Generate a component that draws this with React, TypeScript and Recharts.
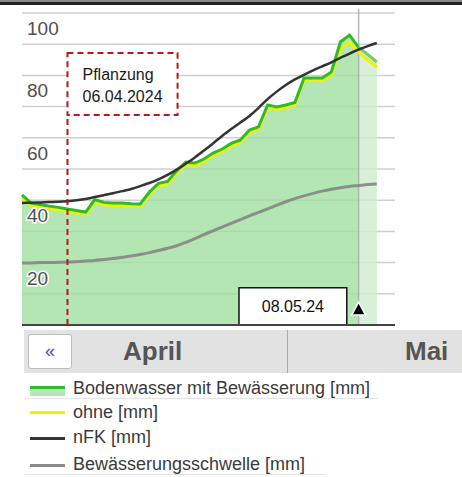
import {
  ComposedChart,
  Area,
  Line,
  XAxis,
  YAxis,
  CartesianGrid,
  ReferenceLine,
  ReferenceArea,
  ReferenceDot,
} from "recharts";

const dates = [
  "01.04.", "02.04.", "03.04.", "04.04.", "05.04.", "06.04.", "07.04.", "08.04.", "09.04.", "10.04.",
  "11.04.", "12.04.", "13.04.", "14.04.", "15.04.", "16.04.", "17.04.", "18.04.", "19.04.", "20.04.",
  "21.04.", "22.04.", "23.04.", "24.04.", "25.04.", "26.04.", "27.04.", "28.04.", "29.04.", "30.04.",
  "01.05.", "02.05.", "03.05.", "04.05.", "05.05.", "06.05.", "07.05.", "08.05.", "09.05.", "10.05.",
];

// Bodenwasser mit Bewässerung [mm]
const mitBewaesserung = [
  41.7, 39.1, 38.6, 38.1, 37.7, 37.2, 36.7, 36.2, 40.2, 39.3,
  39.1, 39.1, 38.9, 38.8, 42.6, 45.4, 46.0, 49.4, 52.2, 51.9,
  53.2, 55.1, 56.4, 58.2, 59.3, 62.5, 63.5, 70.5, 69.9, 70.5,
  71.3, 79.2, 79.2, 79.2, 81.1, 90.7, 92.9, 89.0, 86.7, 84.3,
];

// ohne [mm]
const ohne = [
  40.9, 38.3, 37.8, 37.3, 36.9, 36.4, 35.9, 35.4, 39.4, 38.5,
  38.3, 38.3, 38.1, 38.0, 41.8, 44.6, 45.2, 48.6, 51.4, 51.1,
  52.4, 54.3, 55.6, 57.4, 58.5, 61.7, 62.7, 69.7, 69.1, 69.7,
  70.5, 78.4, 78.4, 78.4, 80.2, 88.5, 90.7, 87.5, 85.0, 82.7,
];

// nFK [mm]
const nfk = [
  39.1, 39.2, 39.3, 39.4, 39.5, 39.7, 40.0, 40.4, 41.0, 41.6,
  42.2, 42.9, 43.6, 44.5, 45.5, 46.7, 48.1, 49.8, 51.7, 53.7,
  55.9, 58.2, 60.6, 62.8, 64.9, 67.0, 69.6, 72.4, 74.8, 76.9,
  78.7, 80.2, 81.6, 82.9, 84.2, 85.6, 87.0, 88.3, 89.4, 90.4,
];

// Bewässerungsschwelle [mm]
const schwelle = [
  19.9, 19.9, 20.0, 20.0, 20.1, 20.2, 20.3, 20.5, 20.7, 21.0,
  21.3, 21.7, 22.1, 22.6, 23.2, 23.9, 24.6, 25.4, 26.5, 27.7,
  29.0, 30.2, 31.4, 32.6, 33.8, 35.0, 36.1, 37.2, 38.4, 39.5,
  40.5, 41.4, 42.2, 42.9, 43.5, 44.0, 44.4, 44.7, 45.0, 45.2,
];

const gridTicks = [0, 10, 20, 30, 40, 50, 60, 70, 80, 90, 100];
const yLabels = [20, 40, 60, 80, 100];
const months = ["April", "Mai"];
const pflanzungIdx = 5; // 06.04.2024
const heuteIdx = 37; // 08.05.24

const legendItems = [
  { name: "Bodenwasser mit Bewässerung [mm]", color: "#2dbb2d", band: "#b5e6b5" },
  { name: "ohne [mm]", color: "#f2f200" },
  { name: "nFK [mm]", color: "#333333" },
  { name: "Bewässerungsschwelle [mm]", color: "#8a8a8a" },
];

const data = dates.map((date, i) => ({
  d: i,
  date,
  mitIst: i <= heuteIdx ? mitBewaesserung[i] : null,
  mitProg: i >= heuteIdx ? mitBewaesserung[i] : null,
  ohne: ohne[i],
  nfk: nfk[i],
  schwelle: schwelle[i],
}));

const FONT = "'Liberation Sans', Arial, sans-serif";
const W = 462;
const H = 477;
const MARGIN = { top: 13, right: 67, bottom: 152, left: 22 };
const RED = "#b01c1c";

const renderYTick = (props: any) => {
  const { y, payload } = props;
  return (
    <text
      key={`yt-${payload.value}`}
      x={27}
      y={y + 22}
      fontSize={19}
      fontFamily={FONT}
      fill="#4f4f4f"
      stroke="#ffffff"
      strokeWidth={3}
      paintOrder="stroke"
    >
      {payload.value}
    </text>
  );
};

const PflanzungLabel = ({ viewBox }: any) => (
  <text x={viewBox.x + 15} y={viewBox.y + 27} fontSize={16} fontFamily={FONT} fill="#1a1a1a">
    <tspan x={viewBox.x + 15}>Pflanzung</tspan>
    <tspan x={viewBox.x + 15} dy={22}>06.04.2024</tspan>
  </text>
);

const Triangle = ({ cx, cy }: any) => (
  <path
    d={`M${cx},${cy - 7} L${cx + 7},${cy + 6} L${cx - 7},${cy + 6} Z`}
    fill="#000"
    stroke="#fff"
    strokeWidth={1.5}
  />
);

const rowTops = [376, 400, 425, 452];
const symbolTops = [10, 11, 12, 12];

function LegendBlock() {
  return (
    <div style={{ position: "absolute", left: 0, top: 0, width: W, height: H, pointerEvents: "none" }}>
      {legendItems.map((item, i) => (
        <div
          key={item.name}
          style={{ position: "absolute", left: 0, top: rowTops[i], width: W, height: 24 }}
        >
          <div
            style={{
              position: "absolute",
              left: 30,
              top: symbolTops[i],
              width: 35,
              height: 3,
              background: item.color,
            }}
          />
          {item.band && (
            <div
              style={{
                position: "absolute",
                left: 30,
                top: 13,
                width: 35,
                height: 7,
                background: item.band,
              }}
            />
          )}
          <span
            style={{
              position: "absolute",
              left: 73,
              top: 0,
              fontSize: 18,
              lineHeight: "24px",
              color: "#3a3a3a",
              whiteSpace: "nowrap",
            }}
          >
            {item.name}
          </span>
          {(i === 0 || i === legendItems.length - 1) && (
            <div
              style={{
                position: "absolute",
                left: 25,
                top: 22,
                width: i === 0 ? 353 : 300,
                height: 1,
                background: "#e2e2e2",
              }}
            />
          )}
        </div>
      ))}
    </div>
  );
}

export default function App() {
  return (
    <div
      style={{
        position: "absolute",
        left: 0,
        top: 0,
        width: W,
        height: H,
        background: "#fff",
        overflow: "hidden",
        fontFamily: FONT,
      }}
    >
      {/* oberer Rand */}
      <div style={{ position: "absolute", left: 0, top: 0, width: W, height: 3, background: "#222", borderTop: "2px solid #8a8a8a" }} />

      <div style={{ position: "absolute", left: 0, top: 0 }}>
        <ComposedChart width={W} height={H} data={data} margin={MARGIN}>
          <CartesianGrid vertical={false} horizontalValues={gridTicks} stroke="#cfcfcf" strokeWidth={1.5} />
          <XAxis type="number" dataKey="d" domain={[0, 41]} hide />
          <YAxis
            type="number"
            domain={[0, 100]}
            ticks={yLabels}
            mirror
            axisLine={false}
            tickLine={false}
            interval={0}
            tick={renderYTick}
          />
          <Area
            dataKey="mitIst"
            type="linear"
            fill="#a1e0a1"
            fillOpacity={0.8}
            stroke="none"
            isAnimationActive={false}
          />
          <Area
            dataKey="mitProg"
            type="linear"
            fill="#cdeccd"
            fillOpacity={0.8}
            stroke="none"
            isAnimationActive={false}
          />
          <ReferenceLine
            segment={[
              { x: heuteIdx, y: 0 },
              { x: heuteIdx, y: 101.3 },
            ]}
            ifOverflow="visible"
            stroke="#b5b5b5"
            strokeWidth={1.5}
          />
          <Line
            dataKey="schwelle"
            type="monotone"
            stroke="#858585"
            strokeWidth={3}
            strokeOpacity={0.9}
            dot={false}
            isAnimationActive={false}
          />
          <Line
            dataKey="ohne"
            type="linear"
            stroke="#f2f200"
            strokeWidth={3}
            dot={false}
            isAnimationActive={false}
          />
          <Line
            dataKey="mitIst"
            type="linear"
            stroke="#2dbb2d"
            strokeWidth={3}
            dot={false}
            isAnimationActive={false}
          />
          <Line
            dataKey="mitProg"
            type="linear"
            stroke="#72cc72"
            strokeWidth={3}
            dot={false}
            isAnimationActive={false}
          />
          <Line
            dataKey="nfk"
            type="monotone"
            stroke="#333333"
            strokeWidth={2.5}
            dot={false}
            isAnimationActive={false}
          />
          <ReferenceLine y={0} stroke="#444" strokeWidth={2} />
          <ReferenceLine
            segment={[
              { x: pflanzungIdx, y: 0 },
              { x: pflanzungIdx, y: 67.3 },
            ]}
            stroke={RED}
            strokeWidth={2}
            strokeDasharray="6 4"
          />
          <ReferenceArea
            x1={pflanzungIdx}
            x2={17.1}
            y1={67.3}
            y2={87.2}
            fill="#fff"
            fillOpacity={1}
            stroke={RED}
            strokeWidth={2}
            strokeDasharray="6 4"
            label={<PflanzungLabel />}
          />
          <ReferenceArea
            x1={23.85}
            x2={35.7}
            y1={0}
            y2={11.9}
            fill="#fff"
            fillOpacity={1}
            stroke="#111"
            strokeWidth={1.5}
            label={{ value: "08.05.24", position: "center", fontSize: 16, fill: "#111", fontFamily: FONT }}
          />
          <ReferenceDot x={heuteIdx} y={5.1} r={7} shape={<Triangle />} />
        </ComposedChart>
      </div>

      {/* Monatsleiste */}
      <div style={{ position: "absolute", left: 24, top: 330, width: W - 24, height: 43, background: "#e2e2e2" }}>
        <div
          style={{
            position: "absolute",
            left: 4,
            top: 4,
            width: 42,
            height: 33,
            background: "#fff",
            border: "1px solid #bdbdbd",
            borderRadius: 3,
            color: "#2f55c8",
            fontSize: 18,
            lineHeight: "33px",
            textAlign: "center",
          }}
        >
          «
        </div>
        <div style={{ position: "absolute", left: 99, top: 0, fontSize: 26, fontWeight: "bold", lineHeight: "43px", color: "#555" }}>
          {months[0]}
        </div>
        <div style={{ position: "absolute", left: 263, top: 0, width: 1, height: 43, background: "#a8a8a8" }} />
        <div style={{ position: "absolute", left: 381, top: 0, fontSize: 26, fontWeight: "bold", lineHeight: "43px", color: "#555" }}>
          {months[1]}
        </div>
      </div>

      <LegendBlock />
    </div>
  );
}
